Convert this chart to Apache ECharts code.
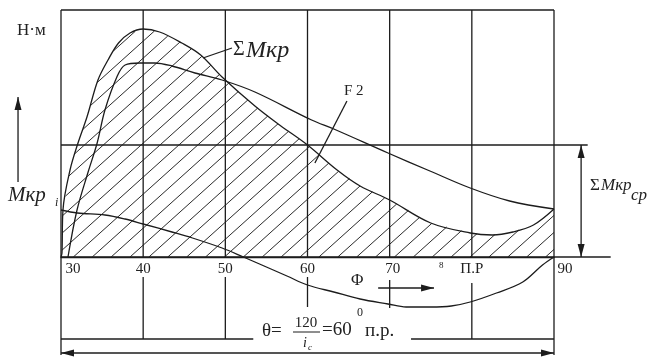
<!DOCTYPE html>
<html lang="ru">
<head>
<meta charset="UTF-8">
<title>Суммарный крутящий момент</title>
<script src="https://cdn.jsdelivr.net/npm/echarts@6/dist/echarts.min.js"></script>
<style>
  html, body { margin: 0; padding: 0; background: #fff; }
  #chart { width: 668px; height: 359px; }
</style>
</head>
<body>
<div id="chart"></div>
<script>
// угол поворота вала, град
var xTicks = [30, 40, 50, 60, 70, 80, 90];
var xTickLabels = ['30', '40', '50', '60', '70', 'П.Р', '90'];

// ΣMкр - суммарный момент (граница заштрихованной площади F2)
var sumX = [30, 30.12, 30.24, 31.1, 32.07, 33.16, 34.5, 35.72, 37, 38.4, 40, 42, 44.7, 47, 49.6, 53.6, 56.6, 60, 63.6, 66.4, 70, 75, 79.8, 82.5, 85, 87.5, 90];
var sumY = [0, 4, 47, 87, 114, 140, 177, 197, 214, 224, 228, 225, 214, 202, 180, 151, 132, 112, 87, 71, 57, 34, 24, 22, 25, 32, 48];

// второй контур момента
var innerX = [30.85, 31.95, 33.3, 34.4, 35.35, 36.8, 37.8, 39.6, 41.4, 43.5, 46.3, 49.6, 53.6, 60.5, 63.2, 69.8, 74.9, 79.8, 84.6, 90];
var innerY = [0, 47, 85, 114, 147, 180, 192, 194, 194, 191, 184, 177, 165, 137, 128, 104, 86, 69, 56, 48];

// Mкр i - момент одного цилиндра
var cylX = [30, 32, 35.35, 37.8, 40, 43.5, 46, 49.6, 52.2, 55, 57.5, 60, 63.2, 66.4, 69.8, 72, 75, 77.5, 79.8, 83, 86.2, 88.6, 90];
var cylY = [47, 44, 42, 38, 33, 25, 19, 9, 0, -10, -19, -28, -35, -42, -47, -50, -50, -49, -45, -36, -25, -8, 0];

var meanTorque = 112;  // ΣMкр ср
var topTorque = 247;

// отрезки: [x1, y1, x2, y2, стрелка в начале, стрелка в конце]
var gridLines = [
  [30, topTorque, 90, topTorque, 0, 0],
  [30, topTorque, 30, -98, 0, 0],
  [90, topTorque, 90, -98, 0, 0],
  [30, 0, 96.9, 0, 0, 0],
  [30, meanTorque, 94.1, meanTorque, 0, 0],
  [40, topTorque, 40, 0, 0, 0],
  [50, topTorque, 50, 0, 0, 0],
  [60, topTorque, 60, 0, 0, 0],
  [70, topTorque, 70, 0, 0, 0],
  [80, topTorque, 80, 0, 0, 0]
];
var lowerLines = [
  [40, -20, 40, -82, 0, 0],
  [50, -20, 50, -82, 0, 0],
  [60, -20, 60, -50, 0, 0],
  [70, -23, 70, -51, 0, 0],
  [80, -26, 80, -82, 0, 0],
  [30, -82, 53.4, -82, 0, 0],
  [72.6, -82, 90, -82, 0, 0]
];
var arrowLines = [
  [30, -96, 90, -96, 1, 1],
  [93.3, meanTorque, 93.3, 0, 1, 1],
  [68.6, -31, 75.4, -31, 0, 1],
  [24.77, 75, 24.77, 160, 0, 1]
];
var leaderLines = [
  [47.28, 199, 50.81, 209, 0, 0],
  [60.9, 94, 64.8, 156, 0, 0]
];

var INK = '#1c1c1c';
var SERIF = '"Liberation Serif", "DejaVu Serif", serif';

function pairs(xs, ys) {
  return xs.map(function (x, i) { return [x, ys[i]]; });
}

function arrowHead(from, to) {
  var dx = to[0] - from[0], dy = to[1] - from[1];
  var len = Math.sqrt(dx * dx + dy * dy);
  var ux = dx / len, uy = dy / len;
  var L = 13, W = 3.5;
  return {
    type: 'polygon',
    shape: { points: [
      [to[0], to[1]],
      [to[0] - ux * L - uy * W, to[1] - uy * L + ux * W],
      [to[0] - ux * L + uy * W, to[1] - uy * L - ux * W]
    ] },
    style: { fill: INK }
  };
}

function renderSegment(params, api) {
  var p1 = api.coord([api.value(0), api.value(1)]);
  var p2 = api.coord([api.value(2), api.value(3)]);
  var children = [{
    type: 'line',
    shape: { x1: p1[0], y1: p1[1], x2: p2[0], y2: p2[1] },
    style: { stroke: INK, lineWidth: 1.3 }
  }];
  if (api.value(4)) children.push(arrowHead(p2, p1));
  if (api.value(5)) children.push(arrowHead(p1, p2));
  return { type: 'group', children: children };
}

// штриховка площади под ΣMкр
function renderHatch(params, api) {
  var poly = sumX.map(function (x, i) { return api.coord([x, sumY[i]]); });
  poly.push(api.coord([sumX[sumX.length - 1], 0]));
  poly.push(api.coord([sumX[0], 0]));
  var k = 0.9, step = 17;
  var cs = poly.map(function (p) { return p[1] + k * p[0]; });
  var cMin = Math.min.apply(null, cs), cMax = Math.max.apply(null, cs);
  var lines = [];
  for (var c = Math.ceil(cMin / step) * step; c <= cMax; c += step) {
    var hits = [];
    for (var i = 0; i < poly.length; i++) {
      var a = poly[i], b = poly[(i + 1) % poly.length];
      var sa = a[1] + k * a[0] - c, sb = b[1] + k * b[0] - c;
      if ((sa < 0) !== (sb < 0)) {
        var t = sa / (sa - sb);
        hits.push([a[0] + t * (b[0] - a[0]), a[1] + t * (b[1] - a[1])]);
      }
    }
    hits.sort(function (p, q) { return p[0] - q[0]; });
    for (var j = 0; j + 1 < hits.length; j += 2) {
      lines.push({
        type: 'line',
        shape: { x1: hits[j][0], y1: hits[j][1], x2: hits[j + 1][0], y2: hits[j + 1][1] },
        style: { stroke: '#2a2a2a', lineWidth: 1 }
      });
    }
  }
  return { type: 'group', children: lines };
}

function curve(name, xs, ys) {
  return {
    name: name,
    type: 'line',
    data: pairs(xs, ys),
    smooth: 0.35,
    symbol: 'none',
    z: 4,
    lineStyle: { color: INK, width: 1.3 }
  };
}

function txt(text, x, y, size, extra) {
  var style = {
    text: text, x: x, y: y,
    font: (extra && extra.italic ? 'italic ' : '') + size + 'px ' + SERIF,
    fill: '#222',
    textAlign: (extra && extra.align) || 'left',
    textVerticalAlign: 'middle'
  };
  return { type: 'text', style: style, z: 10 };
}

var chart = echarts.init(document.getElementById('chart'));
chart.setOption({
  animation: false,
  backgroundColor: '#fff',
  grid: { left: 61, right: 114, top: 7, bottom: 2, outerBoundsMode: 'none', containLabel: false },
  xAxis: {
    type: 'value',
    position: 'bottom',
    offset: -100,   // ось проходит через нулевой момент
    min: 30, max: 90, interval: 10,
    axisLine: { onZero: false, lineStyle: { color: INK, width: 1.3 } },
    axisTick: { show: false },
    splitLine: { show: false },
    axisLabel: {
      margin: 5,
      color: '#222',
      fontFamily: SERIF,
      fontSize: 15,
      formatter: function (v) {
        var i = xTicks.indexOf(v);
        if (i < 0) return '';
        if (v === 30) return '{a|' + xTickLabels[i] + '}';
        if (v === 90) return '{b|' + xTickLabels[i] + '}';
        if (v === 70) return '{c|' + xTickLabels[i] + '}';
        return xTickLabels[i];
      },
      rich: {
        a: { padding: [0, 0, 0, 24], fontFamily: SERIF, fontSize: 15, color: '#222' },
        b: { padding: [0, 0, 0, 22], fontFamily: SERIF, fontSize: 15, color: '#222' },
        c: { padding: [0, 0, 0, 6], fontFamily: SERIF, fontSize: 15, color: '#222' }
      }
    }
  },
  yAxis: {
    type: 'value',
    min: -100, max: 250,
    axisLine: { show: false },
    axisTick: { show: false },
    axisLabel: { show: false },
    splitLine: { show: false }
  },
  series: [
    {
      type: 'custom',
      name: 'F2',
      renderItem: renderHatch,
      data: [[30, 0]],
      encode: { x: 0, y: 1 },
      clip: false,
      z: 1
    },
    {
      type: 'custom',
      name: 'frame',
      renderItem: renderSegment,
      data: gridLines.concat(lowerLines, arrowLines, leaderLines),
      encode: { x: [0, 2], y: [1, 3] },
      clip: false,
      z: 3
    },
    curve('ΣMкр', sumX, sumY),
    curve('inner', innerX, innerY),
    curve('Mкр i', cylX, cylY)
  ],
  graphic: [
    txt('Н·м', 17, 31, 17),
    txt('Σ', 233, 50, 20),
    txt('Mкр', 246, 51, 24, { italic: true }),
    txt('F 2', 344, 91, 15),
    txt('Mкр', 8, 195, 21, { italic: true }),
    txt('i', 55, 203, 12, { italic: true }),
    txt('Σ', 590, 186, 17),
    txt('Mкр', 601, 186, 17, { italic: true }),
    txt('ср', 631, 196, 17, { italic: true }),
    txt('Φ', 351, 281, 17),
    txt('8', 439, 266, 9),
    txt('θ=', 262, 331, 19),
    txt('120', 306, 323, 15, { align: 'center' }),
    { type: 'line', shape: { x1: 293, y1: 332, x2: 320, y2: 332 }, style: { stroke: INK, lineWidth: 1 }, z: 10 },
    txt('i', 303, 343, 14, { italic: true }),
    txt('c', 308, 348, 9, { italic: true }),
    txt('=60', 322, 330, 19),
    txt('0', 357, 313, 12),
    txt('п.р.', 365, 331, 19)
  ]
});
</script>
</body>
</html>
